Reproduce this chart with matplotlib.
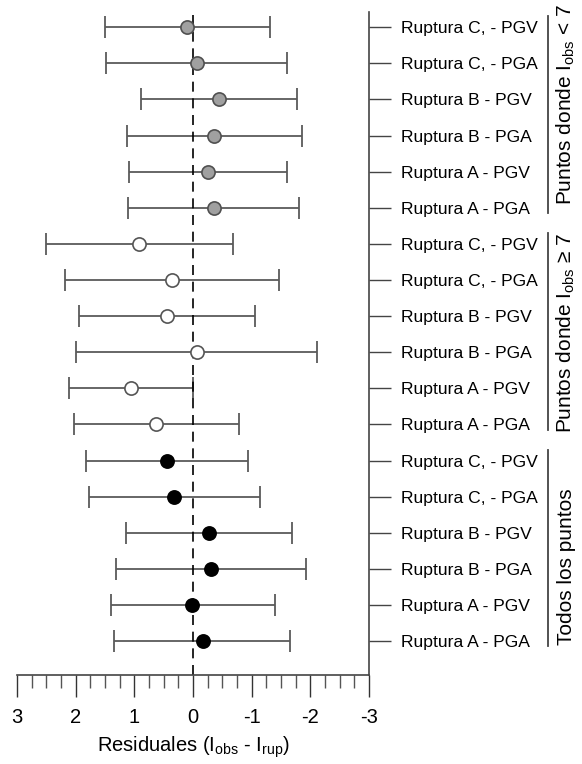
import matplotlib.pyplot as plt
from matplotlib.ticker import MultipleLocator
import numpy as np

plt.rcParams['font.family'] = ['Liberation Sans', 'DejaVu Sans']
plt.rcParams['mathtext.fontset'] = 'custom'
plt.rcParams['mathtext.rm'] = 'Liberation Sans'
plt.rcParams['mathtext.it'] = 'Liberation Sans:italic'

# ---- datos (de abajo hacia arriba dentro de cada grupo) ----
etiquetas = ["Ruptura A - PGA", "Ruptura A - PGV", "Ruptura B - PGA",
             "Ruptura B - PGV", "Ruptura C, - PGA", "Ruptura C, - PGV"]

# Todos los puntos
todos_res = [-0.17, 0.01, -0.30, -0.27, 0.32, 0.44]
todos_max = [1.34, 1.40, 1.31, 1.14, 1.77, 1.82]
todos_min = [-1.65, -1.39, -1.93, -1.69, -1.15, -0.94]

# Puntos donde I_obs >= 7
ge7_res = [0.63, 1.06, -0.06, 0.44, 0.35, 0.92]
ge7_max = [2.03, 2.11, 2.00, 1.94, 2.18, 2.51]
ge7_min = [-0.78, 0.00, -2.11, -1.06, -1.47, -0.68]

# Puntos donde I_obs < 7
lt7_res = [-0.35, -0.25, -0.36, -0.44, -0.06, 0.10]
lt7_max = [1.11, 1.09, 1.13, 0.89, 1.49, 1.50]
lt7_min = [-1.80, -1.60, -1.86, -1.78, -1.61, -1.31]

grupos = ["Todos los puntos",
          "Puntos donde I$_{\\mathrm{obs}}$ ≥ 7",
          "Puntos donde I$_{\\mathrm{obs}}$ < 7"]

# ---- figura ----
fig = plt.figure(figsize=(5.82, 7.64), dpi=100)
ax = fig.add_axes([17 / 582, 89 / 764, 352 / 582, 663 / 764])

estilos = [
    dict(mfc='black', mec='black'),
    dict(mfc='white', mec='#555555'),
    dict(mfc='#a0a0a0', mec='#505050'),
]
datos = [(todos_res, todos_max, todos_min),
         (ge7_res, ge7_max, ge7_min),
         (lt7_res, lt7_max, lt7_min)]

ypos_all = []
for g, ((res, vmax, vmin), est) in enumerate(zip(datos, estilos)):
    res = np.array(res)
    y = np.arange(6) + 6 * g
    ypos_all.extend(y)
    xerr = [res - np.array(vmin), np.array(vmax) - res]
    ax.errorbar(res, y, xerr=xerr, fmt='none', ecolor='#5a5a5a',
                elinewidth=1.3, capsize=8, capthick=1.3, zorder=1)
    ax.plot(res, y, 'o', ms=9.5, mew=1.2, zorder=3, **est)

ax.axvline(0, color='black', lw=1.2, dashes=(6, 4), zorder=2)

ax.set_xlim(3, -3)
ax.set_ylim(-0.94, 17.42)
ax.xaxis.set_minor_locator(MultipleLocator(0.25))
ax.set_xticks([3, 2, 1, 0, -1, -2, -3])
ax.set_xticklabels(['3', '2', '1', '0', '-1', '-2', '-3'])
ax.tick_params(axis='x', which='major', direction='out', length=16,
               width=1, color='#333333', labelsize=14.5, pad=8)
ax.tick_params(axis='x', which='minor', direction='out', length=9,
               width=1, color='#555555')

ax.yaxis.tick_right()
ax.set_yticks(ypos_all)
ax.set_yticklabels(etiquetas * 3)
ax.tick_params(axis='y', direction='out', length=16, width=1,
               color='#444444', labelsize=12.6, pad=7)

for s in ['left', 'top']:
    ax.spines[s].set_visible(False)
for s in ['right', 'bottom']:
    ax.spines[s].set_color('#444444')
    ax.spines[s].set_linewidth(1.2)

ax.set_xlabel("Residuales (I$_{\\mathrm{obs}}$ - I$_{\\mathrm{rup}}$)",
              fontsize=14.5, labelpad=5)

# corchetes de grupo a la derecha
trans = ax.get_yaxis_transform()
texto_y = [2.05, 8.53, 14.87]
for g, nombre in enumerate(grupos):
    lo, hi = 6 * g - 0.15, 6 * g + 5.3
    ax.plot([1.508, 1.508], [lo, hi], color='#444444', lw=1.3,
            transform=trans, clip_on=False)
    ax.text(1.56, texto_y[g], nombre, rotation=90, ha='center', va='center',
            fontsize=15, transform=trans)

fig.savefig('out.png', dpi=100)
